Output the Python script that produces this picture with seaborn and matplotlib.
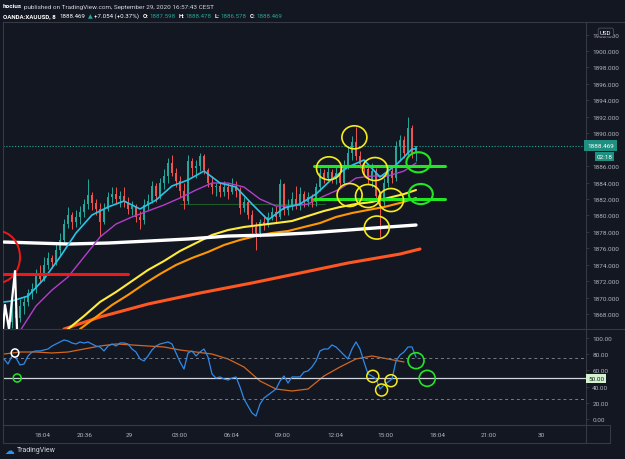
import matplotlib
matplotlib.use("Agg")
import matplotlib.pyplot as plt
import matplotlib.transforms as mtransforms
from matplotlib.patches import Ellipse
from matplotlib.lines import Line2D
import numpy as np
import seaborn as sns

# ---- data (XAUUSD, 8 min bars) ----
first_open = 1867.0
last_open = 1887.598
closes = [1868.4, 1867.5, 1869.0, 1869.5, 1870.5, 1871.0, 1872.8, 1872.3, 1874.0, 1874.8,
          1874.3, 1875.8, 1877.0, 1879.0, 1880.0, 1879.2, 1879.8, 1880.4, 1881.4, 1882.5,
          1881.5, 1880.8, 1879.2, 1880.8, 1882.2, 1882.6, 1882.0, 1882.4, 1881.6, 1880.8,
          1881.2, 1879.8, 1879.4, 1881.3, 1881.8, 1883.6, 1882.4, 1883.9, 1884.8, 1886.4,
          1885.2, 1884.2, 1883.0, 1881.8, 1886.6, 1885.8, 1886.0, 1887.2, 1885.5, 1884.0,
          1883.4, 1883.6, 1882.8, 1883.4, 1882.9, 1883.5, 1883.0, 1880.9, 1881.6, 1880.0,
          1878.6, 1877.8, 1879.2, 1878.8, 1879.8, 1880.4, 1879.8, 1883.8, 1880.6, 1881.2,
          1882.0, 1881.2, 1882.6, 1881.6, 1882.3, 1881.6, 1883.4, 1885.2, 1884.6, 1885.3,
          1884.4, 1885.2, 1883.9, 1886.0, 1887.6, 1888.9, 1887.2, 1886.2, 1885.6, 1884.4,
          1885.4, 1882.4, 1881.6, 1884.0, 1885.4, 1884.6, 1888.4, 1889.2, 1887.6, 1890.6,
          1887.6, 1888.469]
highs = [1869.5, 1869.0, 1869.8, 1870.2, 1871.0, 1871.8, 1873.5, 1874.0, 1875.0, 1875.5,
         1875.2, 1876.5, 1877.8, 1879.6, 1881.0, 1880.4, 1880.6, 1881.2, 1882.0, 1884.4,
         1882.8, 1882.0, 1881.5, 1881.5, 1882.8, 1883.4, 1883.5, 1883.0, 1883.4, 1882.2,
         1881.8, 1881.4, 1880.5, 1882.0, 1882.6, 1884.2, 1884.0, 1884.6, 1885.6, 1887.0,
         1887.3, 1885.8, 1884.8, 1884.0, 1887.3, 1887.0, 1886.8, 1887.6, 1887.5, 1885.8,
         1884.8, 1884.0, 1884.0, 1884.2, 1884.0, 1884.6, 1884.2, 1883.4, 1882.3, 1881.9,
         1880.6, 1879.2, 1879.6, 1880.0, 1880.4, 1881.0, 1881.2, 1884.4, 1884.0, 1882.0,
         1882.8, 1883.6, 1883.4, 1883.0, 1882.8, 1882.6, 1884.0, 1885.8, 1885.6, 1885.9,
         1885.6, 1885.9, 1886.3, 1886.8, 1888.4, 1889.6, 1890.8, 1887.8, 1886.8, 1886.0,
         1886.4, 1885.8, 1883.0, 1884.6, 1886.0, 1886.0, 1889.0, 1889.8, 1889.6, 1892.0,
         1891.0, 1888.478]
lows = [1866.3, 1866.5, 1867.0, 1868.0, 1869.0, 1869.8, 1870.5, 1871.8, 1872.0, 1873.5,
        1873.6, 1874.0, 1875.2, 1876.5, 1878.5, 1878.4, 1878.6, 1879.0, 1879.8, 1880.8,
        1880.6, 1880.0, 1877.5, 1879.0, 1880.5, 1881.5, 1881.4, 1881.0, 1881.0, 1880.2,
        1880.0, 1879.2, 1878.4, 1879.0, 1880.6, 1881.5, 1881.6, 1882.0, 1883.2, 1884.0,
        1884.8, 1883.4, 1882.3, 1880.8, 1881.4, 1884.8, 1884.6, 1885.4, 1885.0, 1883.5,
        1882.6, 1882.4, 1882.2, 1882.4, 1882.0, 1882.6, 1882.2, 1880.2, 1880.4, 1879.6,
        1877.8, 1875.8, 1877.4, 1878.2, 1878.6, 1879.4, 1879.2, 1879.6, 1880.0, 1880.0,
        1880.6, 1880.8, 1880.6, 1881.0, 1881.2, 1881.0, 1881.2, 1883.0, 1884.0, 1884.2,
        1884.0, 1883.8, 1883.5, 1883.6, 1885.6, 1886.8, 1886.8, 1885.8, 1885.0, 1883.8,
        1883.4, 1881.8, 1877.4, 1881.2, 1883.4, 1884.0, 1884.2, 1886.6, 1887.0, 1887.4,
        1887.0, 1886.578]

# moving averages: bar index -> value
cyan_x = [-2, 0, 4, 8, 12, 16, 20, 24, 28, 32, 36, 40, 44, 48, 52, 56, 60, 64, 68, 72,
          76, 80, 84, 88, 92, 96, 100, 101]
cyan_y = [1869.47, 1869.59, 1870.19, 1872.26, 1874.94, 1877.86, 1880.05, 1881.02, 1881.75, 1880.78,
          1881.87, 1883.58, 1884.31, 1885.40, 1883.94, 1883.45, 1881.39, 1879.44, 1880.90, 1881.39,
          1882.60, 1884.43, 1885.89, 1886.74, 1884.67, 1886.13, 1888.08, 1888.08]
magenta_x = [2, 6, 10, 14, 18, 22, 26, 30, 34, 38, 42, 46, 50, 54, 58, 62, 66, 70, 74, 78,
             82, 86, 90, 94, 98, 101]
magenta_y = [1865.94, 1868.98, 1870.92, 1872.51, 1874.94, 1877.37, 1878.95, 1879.81, 1880.54, 1881.27,
             1882.12, 1883.09, 1883.94, 1883.94, 1883.45, 1881.99, 1881.14, 1881.14, 1881.39, 1882.36,
             1883.21, 1884.55, 1884.79, 1884.79, 1885.40, 1886.37]
white_x = [-2, 6, 14, 24, 34, 44, 54, 64, 74, 84, 94, 101]
white_y = [1876.76, 1876.64, 1876.52, 1876.64, 1876.88, 1877.13, 1877.49, 1877.61, 1877.86, 1878.22,
           1878.59, 1878.83]
yellow_x = [14, 18, 22, 26, 30, 34, 38, 42, 46, 50, 54, 58, 62, 66, 70, 74, 78, 82, 86, 90,
            94, 98, 101]
yellow_y = [1866.18, 1867.76, 1869.47, 1870.68, 1872.02, 1873.36, 1874.45, 1875.67, 1876.64, 1877.62,
            1878.22, 1878.59, 1878.83, 1879.07, 1879.32, 1879.93, 1880.54, 1881.02, 1881.39, 1881.63,
            1882.12, 1882.60, 1883.09]
orange_x = [17, 21, 25, 29, 33, 37, 41, 45, 49, 53, 57, 61, 65, 69, 73, 77, 81, 85, 89, 93,
            97, 101]
orange_y = [1866.18, 1867.64, 1869.10, 1870.32, 1871.65, 1872.87, 1873.97, 1874.82, 1875.55, 1876.40,
            1877.01, 1877.49, 1877.86, 1878.10, 1878.59, 1879.07, 1879.81, 1880.29, 1880.66, 1881.02,
            1881.51, 1882.12]
dkorange_x = [13, 22, 34, 47, 60, 72, 84, 97, 102]
dkorange_y = [1866.18, 1867.64, 1869.22, 1870.56, 1871.78, 1872.99, 1874.21, 1875.30, 1875.91]

# oscillator panel, one value per bar from bar -2
rsi = [74.1, 67.9, 77.8, 75.3, 66.7, 67.9, 77.8, 82.7, 84.0, 84.0,
       85.2, 86.4, 90.1, 92.6, 95.1, 97.5, 96.3, 93.8, 92.6, 95.1,
       93.8, 95.1, 92.6, 90.1, 88.9, 84.0, 90.1, 92.6, 90.1, 93.8,
       93.8, 92.6, 86.4, 82.7, 74.1, 71.6, 77.8, 85.2, 90.1, 92.6,
       93.8, 95.1, 92.6, 81.5, 70.4, 61.7, 81.5, 84.0, 77.8, 82.7,
       86.4, 76.5, 55.6, 50.6, 51.9, 49.4, 48.1, 50.6, 51.9, 39.5,
       24.7, 16.0, 7.4, 3.7, 18.5, 25.9, 29.6, 33.3, 37.0, 46.9,
       53.1, 44.4, 51.9, 51.9, 51.9, 58.0, 59.3, 64.2, 71.6, 84.0,
       86.4, 86.4, 91.4, 88.9, 84.0, 79.0, 74.1, 86.4, 95.1, 86.4,
       70.4, 55.6, 53.1, 49.4, 37.0, 42.0, 45.7, 49.4, 71.6, 79.0,
       82.7, 88.9, 88.9, 76.5]
# its moving average, every 4 bars from bar -2
rsi_ma = [80.2, 82.7, 82.7, 81.5, 82.7, 86.4, 90.1, 92.6, 91.4, 90.1, 88.9, 85.2, 82.7,
          80.2, 74.1, 64.2, 46.9, 37.0, 34.6, 37.0, 53.1, 64.2, 74.1, 77.8, 74.1, 70.4]

time_labels = ['18:04', '20:36', '29', '03:00', '06:04', '09:00', '12:04', '15:00', '18:04', '21:00', '30']
time_ticks = [7.5, 18.25, 29.25, 42, 55, 67.75, 80.75, 93.25, 106.25, 119.25, 132.25]
price_ticks = np.arange(1868, 1903, 2)
rsi_ticks = [0, 20, 40, 60, 80, 100]
last_price = 1888.469

# drawings on the chart (green levels, marked spots)
levels = [1885.97, 1882.03]
yellow_marks = [(85.6, 1889.5), (79.25, 1885.73), (90.75, 1885.64), (84.4, 1882.48),
                (89.0, 1882.36), (94.75, 1881.87), (91.2, 1878.52)]
green_marks = [(101.6, 1886.46), (102.2, 1882.6)]
rsi_yellow = [(90.2, 52.7), (92.4, 35.8), (94.75, 47.3)]
rsi_green = [(101.0, 72.0), (103.8, 50.2)]

# ---- style ----
BG = '#131722'
GRID = '#363a45'
TXT = '#b2b5be'
UP, DOWN = '#26a69a', '#ef5350'
W, H = 625, 460

sns.set_theme(style="dark", rc={"axes.facecolor": BG, "figure.facecolor": BG,
                                "axes.edgecolor": GRID, "text.color": TXT,
                                "xtick.color": TXT, "ytick.color": TXT})
plt.rcParams['font.family'] = ['Roboto', 'DejaVu Sans']


def fx(px):
    return px / W


def fy(py):
    return 1 - py / H


fig = plt.figure(figsize=(6.25, 4.6), dpi=100)
ax = fig.add_axes([fx(3), fy(330), (586 - 3) / W, (330 - 23) / H])
rx = fig.add_axes([fx(3), fy(426), (586 - 3) / W, (426 - 330) / H], sharex=ax)

# candles
closes = np.array(closes)
opens = np.array([first_open] + list(closes[:-1]))
opens[-1] = last_open
bars = np.arange(len(closes))
colors = np.where(closes >= opens, UP, DOWN)
ax.vlines(bars, lows, highs, colors=colors, linewidth=0.7, zorder=2)
ax.bar(bars, closes - opens, bottom=opens, width=0.62, color=colors, linewidth=0, zorder=2)

# moving averages
ma_lines = [(dkorange_x, dkorange_y, '#ff5722', 2.2),
            (orange_x, orange_y, '#ff9800', 1.5),
            (yellow_x, yellow_y, '#ffeb3b', 1.5),
            (white_x, white_y, '#ffffff', 2.4),
            (magenta_x, magenta_y, '#b23fc9', 1.0),
            (cyan_x, cyan_y, '#29c5e6', 1.2)]
for xs, ys, c, lw in ma_lines:
    sns.lineplot(x=xs, y=ys, ax=ax, color=c, linewidth=lw, estimator=None, sort=False, zorder=3)

ax.axhline(last_price, color=UP, ls=(0, (1, 1.6)), lw=0.8, zorder=1)
ax.plot([42, 78.25], [1881.39, 1881.39], color='#1f5a2a', lw=0.8, zorder=1)

# user drawings
ax.plot([-2.25, 29], [1872.93, 1872.93], color='#f01818', lw=2.2, zorder=4)
ax.add_patch(Ellipse((-3.5, 1874.94), 11, 6.3, fill=False, ec='#f01818', lw=1.4, zorder=4))
ax.plot([-2.25, -1.75, -0.75, 0.75, 1.25], [1866.18, 1869.1, 1866.18, 1873.23, 1866.18],
        color='white', lw=1.6, zorder=4)
for lv in levels:
    ax.plot([75.5, 108.2], [lv, lv], color='#22e622', lw=2.2, zorder=4)
for cx, cy in yellow_marks:
    ax.add_patch(Ellipse((cx, cy), 6.25, 2.8, fill=False, ec='#f5ec1a', lw=1.2, zorder=5))
for cx, cy in green_marks:
    ax.add_patch(Ellipse((cx, cy), 6.0, 2.45, fill=False, ec='#22e622', lw=1.5, zorder=5))

ax.set_ylim(1866.18, 1903.53)
ax.set_xlim(-2.25, 143.5)
ax.yaxis.tick_right()
ax.set_yticks(price_ticks)
# 1888 sits under the last-price tag
ax.set_yticklabels(['' if p == 1888 else '%.3f' % p for p in price_ticks])
ax.tick_params(axis='y', labelsize=4.6, length=2.5, width=0.6, pad=2, color=GRID, labelcolor=TXT)
ax.tick_params(axis='x', length=0, labelbottom=False)
ax.set_xlabel('')
ax.set_ylabel('')

# oscillator panel
sns.lineplot(x=np.arange(-2, -2 + len(rsi)), y=rsi, ax=rx, color='#2f8ae8', linewidth=0.9,
             estimator=None, zorder=3)
sns.lineplot(x=np.arange(-2, -2 + 4 * len(rsi_ma), 4), y=rsi_ma, ax=rx, color='#d5661c',
             linewidth=0.9, estimator=None, zorder=2)
rx.axhline(75, color='#787b86', ls=(0, (3, 3)), lw=0.7)
rx.axhline(25, color='#787b86', ls=(0, (3, 3)), lw=0.7)
rx.axhline(50, color='#d1d4dc', lw=0.9)
rx.add_patch(Ellipse((0.75, 81.5), 1.9, 10, fill=False, ec='white', lw=1.1, zorder=5))
rx.add_patch(Ellipse((1.3, 50.6), 2.0, 10, fill=False, ec='#22e622', lw=1.1, zorder=5))
for cx, cy in rsi_yellow:
    rx.add_patch(Ellipse((cx, cy), 3.0, 14.8, fill=False, ec='#f5ec1a', lw=1.1, zorder=5))
for cx, cy in rsi_green:
    rx.add_patch(Ellipse((cx, cy), 4.0, 19.7, fill=False, ec='#22e622', lw=1.2, zorder=5))

rx.set_ylim(-7.4, 111.1)
rx.yaxis.tick_right()
rx.set_yticks(rsi_ticks)
rx.set_yticklabels(['%.2f' % v for v in rsi_ticks])
rx.tick_params(axis='y', labelsize=4.6, length=2.5, width=0.6, pad=2, color=GRID, labelcolor=TXT)
rx.set_xticks(time_ticks)
rx.set_xticklabels(time_labels)
rx.tick_params(axis='x', labelsize=4.6, length=2, width=0.6, pad=3, color=GRID, labelcolor=TXT)
rx.set_xlabel('')
rx.set_ylabel('')

for a in (ax, rx):
    for s in a.spines.values():
        s.set_color(GRID)
        s.set_linewidth(0.8)

# frame lines of the time and price scales
for py in (426, 444):
    fig.add_artist(Line2D([fx(3), fx(610)], [fy(py), fy(py)], color=GRID, lw=0.8))
fig.add_artist(Line2D([fx(586), fx(625)], [fy(330), fy(330)], color=GRID, lw=0.8))
fig.add_artist(Line2D([fx(586), fx(625)], [fy(23), fy(23)], color=GRID, lw=0.8))
fig.add_artist(Line2D([fx(3), fx(3)], [fy(426), fy(444)], color=GRID, lw=0.8))
fig.add_artist(Line2D([fx(586), fx(586)], [fy(426), fy(444)], color=GRID, lw=0.8))
fig.add_artist(Line2D([fx(610), fx(610)], [fy(426), fy(444)], color=GRID, lw=0.8))

# price scale labels
blend = mtransforms.blended_transform_factory(ax.transAxes, ax.transData)
ax.text(1.002, last_price, '1888.469', transform=blend, ha='left', va='center', fontsize=4.6,
        color='white', bbox=dict(boxstyle='square,pad=0.45', fc='#1e8f80', ec='none'), zorder=6)
ax.text(1.018, 1887.2, '02:18', transform=blend, ha='left', va='center', fontsize=4.6,
        color='white', bbox=dict(boxstyle='square,pad=0.3', fc='#1e8f80', ec='none'), zorder=6)
ax.text(1.034, 0.966, 'USD', transform=ax.transAxes, ha='center', va='center', fontsize=4.4,
        color='white', bbox=dict(boxstyle='round,pad=0.3', fc=BG, ec='#50535e', lw=0.6), zorder=6)
rblend = mtransforms.blended_transform_factory(rx.transAxes, rx.transData)
rx.text(1.004, 50, '50.00', transform=rblend, ha='left', va='center', fontsize=4.6,
        color=BG, bbox=dict(boxstyle='square,pad=0.3', fc='#d4f2cf', ec='none'), zorder=6)

# header, laid out piece by piece
renderer = fig.canvas.get_renderer()


def write_row(pieces, py, size):
    x = 3.0
    for s, c, w, gap in pieces:
        t = fig.text(fx(x), fy(py), s, fontsize=size, color=c, weight=w, va='center',
                     family=['Roboto', 'DejaVu Sans'])
        x += t.get_window_extent(renderer).width + gap


write_row([('hocius', 'white', 'bold', 2),
           ('published on TradingView.com, September 29, 2020 16:57:43 CEST', '#d1d4dc', 'normal', 0)],
          7, 4.6)
write_row([('OANDA:XAUUSD, 8', 'white', 'semibold', 4), ('1888.469', 'white', 'normal', 2),
           ('▲', UP, 'normal', 2), ('+7.054 (+0.37%)', 'white', 'normal', 3),
           ('O:', 'white', 'semibold', 1), ('1887.598', UP, 'normal', 3),
           ('H:', 'white', 'semibold', 1), ('1888.478', UP, 'normal', 3),
           ('L:', 'white', 'semibold', 1), ('1886.578', UP, 'normal', 3),
           ('C:', 'white', 'semibold', 1), ('1888.469', UP, 'normal', 0)],
          16.5, 4.4)

# footer logo
fig.text(fx(4), fy(451), '☁', fontsize=7, color='#2196f3', va='center', family=['DejaVu Sans'])
fig.text(fx(17), fy(451), 'TradingView', fontsize=5.0, color='#d1d4dc', va='center')

fig.savefig('out.png', dpi=100, facecolor=BG)
